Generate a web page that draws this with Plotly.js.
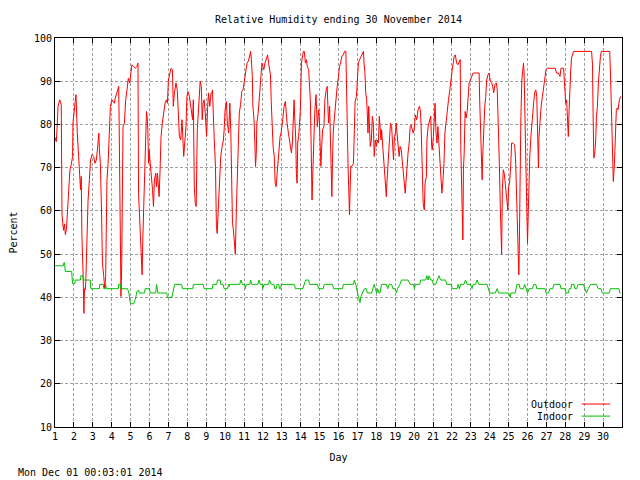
<!DOCTYPE html>
<html>
<head>
<meta charset="utf-8">
<script src="https://cdn.plot.ly/plotly-3.0.1.min.js"></script>
<style>html,body{margin:0;padding:0;background:#fff;}#chart{width:640px;height:480px;}</style>
</head>
<body>
<div id="chart"></div>
<script>
// Relative humidity, November 2014 — [day of month, percent]
var outdoorPoints = [
[1.00,77.0],[1.07,76.0],[1.12,80.0],[1.16,84.2],[1.25,85.7],[1.33,84.6],[1.37,59.1],[1.40,57.1],[1.45,55.5],[1.50,57.0],
[1.55,54.5],[1.61,56.0],[1.65,59.1],[1.72,64.9],[1.79,69.5],[1.86,70.7],[1.93,72.6],[1.95,80.3],[2.00,83.4],[2.07,85.3],
[2.11,86.9],[2.14,81.9],[2.18,78.0],[2.25,72.6],[2.32,67.2],[2.35,64.9],[2.39,68.0],[2.42,54.8],[2.49,45.0],[2.53,36.3],
[2.56,42.0],[2.60,41.7],[2.63,43.6],[2.70,58.7],[2.75,62.5],[2.82,67.2],[2.88,71.8],[2.96,73.0],[3.05,72.6],[3.11,71.0],
[3.19,71.8],[3.26,74.9],[3.30,76.4],[3.32,78.0],[3.35,74.1],[3.40,71.0],[3.46,60.2],[3.51,47.9],[3.58,44.8],[3.63,42.1],
[3.68,44.8],[3.72,57.1],[3.75,67.2],[3.81,71.0],[3.86,76.4],[3.93,84.2],[4.02,85.7],[4.14,84.9],[4.19,86.1],[4.32,88.4],
[4.37,88.8],[4.40,78.0],[4.46,59.5],[4.49,40.2],[4.53,47.9],[4.56,58.7],[4.60,79.5],[4.67,80.3],[4.74,85.7],[4.81,88.0],
[4.88,90.7],[4.95,89.6],[5.00,91.9],[5.07,93.8],[5.16,93.4],[5.25,93.0],[5.33,93.4],[5.39,94.2],[5.42,64.1],[5.49,55.6],
[5.56,47.9],[5.61,45.2],[5.65,54.1],[5.70,62.5],[5.74,71.0],[5.79,78.8],[5.84,83.0],[5.88,81.5],[5.91,78.8],[5.95,71.0],
[5.98,74.1],[6.04,71.0],[6.09,68.7],[6.16,64.9],[6.21,61.0],[6.26,67.2],[6.33,68.7],[6.37,65.6],[6.42,68.7],[6.51,63.3],
[6.56,69.5],[6.61,77.2],[6.68,80.3],[6.75,82.6],[6.82,84.9],[6.89,85.7],[6.95,84.9],[7.00,90.3],[7.05,91.1],[7.14,93.0],
[7.21,92.7],[7.26,84.2],[7.32,87.3],[7.40,89.6],[7.47,88.0],[7.58,77.2],[7.65,76.4],[7.72,81.1],[7.81,72.6],[7.86,74.9],
[7.93,79.5],[7.98,86.5],[8.04,87.6],[8.11,86.5],[8.23,83.4],[8.28,81.1],[8.32,85.7],[8.37,65.6],[8.42,61.8],[8.47,61.0],
[8.53,78.8],[8.58,83.4],[8.63,87.3],[8.68,90.0],[8.74,88.8],[8.79,81.1],[8.84,84.9],[8.89,85.7],[8.95,82.6],[9.02,77.2],
[9.07,83.4],[9.12,87.3],[9.19,84.2],[9.26,87.3],[9.32,87.6],[9.33,88.0],[9.42,77.2],[9.49,70.3],[9.54,56.4],[9.58,54.8],
[9.63,59.5],[9.70,67.2],[9.77,72.6],[9.84,74.9],[9.91,76.4],[9.95,78.8],[10.00,83.4],[10.07,85.3],[10.12,80.3],[10.19,78.0],
[10.25,84.9],[10.30,78.8],[10.33,71.0],[10.39,57.1],[10.44,55.6],[10.49,53.3],[10.54,50.0],[10.60,61.0],[10.65,68.7],[10.70,76.4],
[10.75,82.6],[10.82,84.6],[10.88,87.6],[10.95,88.0],[11.02,90.3],[11.09,93.0],[11.16,94.2],[11.23,94.6],[11.30,95.8],[11.35,96.9],
[11.39,95.0],[11.44,91.1],[11.47,84.2],[11.53,81.1],[11.58,74.9],[11.61,70.3],[11.65,73.4],[11.68,80.3],[11.75,82.6],[11.79,85.3],
[11.82,87.3],[11.88,90.3],[11.95,94.2],[12.00,93.4],[12.05,92.7],[12.11,94.2],[12.18,95.4],[12.25,96.1],[12.30,94.2],[12.35,92.3],
[12.40,91.5],[12.44,85.3],[12.49,79.5],[12.54,74.9],[12.60,72.6],[12.65,66.4],[12.70,65.6],[12.77,68.7],[12.84,73.4],[12.91,77.2],
[12.96,78.0],[13.05,81.1],[13.12,84.2],[13.19,85.3],[13.23,81.9],[13.28,80.3],[13.35,78.0],[13.40,76.4],[13.46,74.9],[13.51,73.4],
[13.56,75.7],[13.61,80.3],[13.65,85.7],[13.68,81.9],[13.74,76.4],[13.77,68.7],[13.81,66.4],[13.84,75.7],[13.89,77.2],[13.95,81.1],
[13.98,83.0],[14.04,94.2],[14.09,96.1],[14.14,96.9],[14.19,96.9],[14.25,94.2],[14.30,95.0],[14.35,93.4],[14.42,92.7],[14.46,90.3],
[14.51,85.7],[14.56,73.4],[14.60,62.5],[14.63,67.2],[14.68,76.4],[14.74,82.6],[14.81,86.9],[14.84,83.4],[14.88,79.5],[14.95,83.4],
[14.98,81.9],[15.02,76.4],[15.07,70.3],[15.11,74.9],[15.16,78.8],[15.23,79.5],[15.28,85.7],[15.35,88.0],[15.40,88.8],[15.44,84.2],
[15.47,80.3],[15.53,84.2],[15.56,78.0],[15.61,68.7],[15.65,63.3],[15.68,71.0],[15.72,78.0],[15.79,81.9],[15.86,86.1],[15.93,88.8],
[16.00,91.1],[16.05,93.4],[16.11,94.2],[16.18,95.8],[16.26,96.1],[16.32,96.9],[16.39,96.9],[16.42,87.3],[16.47,78.0],[16.51,69.5],
[16.54,65.6],[16.58,59.1],[16.61,64.1],[16.65,70.3],[16.70,70.3],[16.79,71.0],[16.84,78.8],[16.88,85.3],[16.95,86.5],[17.00,91.1],
[17.05,94.2],[17.12,95.0],[17.19,95.8],[17.26,96.5],[17.32,96.9],[17.35,94.2],[17.40,91.9],[17.44,87.3],[17.49,85.7],[17.53,81.9],
[17.56,78.0],[17.60,84.2],[17.63,78.8],[17.68,74.9],[17.74,76.4],[17.79,81.9],[17.84,80.3],[17.89,72.6],[17.95,76.4],[18.00,74.9],
[18.05,76.4],[18.11,75.7],[18.16,81.9],[18.21,78.8],[18.25,76.4],[18.28,78.8],[18.33,75.7],[18.39,72.6],[18.44,70.3],[18.49,68.0],
[18.53,63.3],[18.56,66.4],[18.63,72.6],[18.70,76.4],[18.75,80.3],[18.81,79.5],[18.86,76.4],[18.91,71.8],[18.96,77.2],[19.02,78.0],
[19.05,80.3],[19.11,76.4],[19.16,74.9],[19.21,72.6],[19.26,74.9],[19.32,74.1],[19.37,71.8],[19.42,71.0],[19.47,68.7],[19.53,64.1],
[19.58,67.2],[19.63,71.8],[19.68,73.4],[19.74,75.7],[19.79,79.5],[19.84,79.9],[19.89,78.8],[19.95,78.0],[20.00,78.8],[20.07,82.2],
[20.14,81.1],[20.21,83.4],[20.28,84.2],[20.33,83.4],[20.37,80.0],[20.42,69.5],[20.48,61.8],[20.54,60.2],[20.58,66.4],[20.65,68.0],
[20.68,76.4],[20.74,79.5],[20.81,81.1],[20.88,81.9],[20.93,74.9],[20.96,74.1],[21.02,77.2],[21.07,80.3],[21.11,84.9],[21.16,78.0],
[21.21,75.7],[21.26,79.5],[21.32,75.7],[21.37,70.3],[21.42,69.5],[21.47,64.1],[21.53,67.2],[21.58,71.0],[21.63,78.0],[21.68,80.3],
[21.75,82.6],[21.82,85.7],[21.89,88.0],[21.96,91.1],[22.02,92.7],[22.07,94.2],[22.12,95.8],[22.18,96.1],[22.25,94.2],[22.32,93.8],
[22.39,94.6],[22.44,95.0],[22.47,74.9],[22.53,58.7],[22.58,53.3],[22.61,69.5],[22.65,73.4],[22.70,83.0],[22.75,81.5],[22.81,83.0],
[22.86,88.0],[22.91,89.6],[22.98,90.3],[23.05,91.1],[23.12,91.9],[23.21,91.9],[23.33,91.9],[23.44,91.9],[23.47,85.7],[23.53,74.1],
[23.56,71.0],[23.60,67.2],[23.63,72.6],[23.68,80.3],[23.74,84.2],[23.79,86.5],[23.84,90.3],[23.91,91.5],[23.96,91.9],[24.04,89.9],
[24.11,89.6],[24.16,88.8],[24.21,87.3],[24.28,89.2],[24.35,89.6],[24.40,88.0],[24.46,81.1],[24.51,71.0],[24.56,61.0],[24.60,55.0],
[24.63,50.0],[24.67,64.9],[24.72,69.5],[24.77,68.7],[24.82,66.4],[24.88,64.1],[24.93,61.8],[24.96,60.2],[25.00,65.6],[25.05,66.4],
[25.11,70.3],[25.16,75.7],[25.23,75.7],[25.32,75.3],[25.37,71.8],[25.42,64.1],[25.46,57.1],[25.51,47.9],[25.54,45.2],[25.56,49.4],
[25.60,68.7],[25.65,81.5],[25.70,90.3],[25.75,93.4],[25.79,94.2],[25.82,91.9],[25.86,82.6],[25.91,69.5],[25.96,61.8],[26.00,52.5],
[26.04,59.5],[26.07,68.7],[26.12,72.6],[26.18,77.2],[26.23,80.3],[26.28,83.4],[26.33,85.3],[26.39,87.6],[26.44,88.0],[26.49,86.5],
[26.54,75.7],[26.58,69.9],[26.61,77.2],[26.67,82.6],[26.72,84.2],[26.79,86.5],[26.86,88.8],[26.93,90.3],[26.98,92.7],[27.05,93.0],
[27.28,93.0],[27.47,93.0],[27.53,91.9],[27.63,91.9],[27.72,91.1],[27.77,93.0],[27.91,93.0],[27.96,87.6],[28.02,84.9],[28.07,85.7],
[28.12,82.2],[28.16,77.2],[28.19,81.9],[28.23,88.8],[28.28,91.9],[28.33,95.4],[28.39,96.5],[28.44,96.9],[29.39,96.9],[29.44,93.8],
[29.47,82.6],[29.51,72.2],[29.56,73.4],[29.61,76.4],[29.65,81.9],[29.70,84.2],[29.75,89.6],[29.81,93.4],[29.86,95.8],[29.91,96.9],
[30.35,96.9],[30.40,90.3],[30.46,78.8],[30.51,68.7],[30.54,66.8],[30.60,71.0],[30.65,81.1],[30.70,83.4],[30.75,83.8],[30.79,83.4],
[30.86,85.7],[30.93,86.5]
];

var indoorPoints = [
[1.00,47.3],[1.44,47.3],[1.47,48],[1.51,48],[1.54,46],[1.88,46],[1.93,43.2],[2.05,43.2],[2.07,44],[2.35,44],
[2.37,45],[2.47,45],[2.50,44],[2.86,44],[2.90,42],[3.35,42],[3.37,43],[3.56,43],[3.58,42],[3.66,42],
[3.68,43],[3.72,42],[4.35,42],[4.37,43],[4.46,43],[4.49,42],[4.84,42],[4.91,41],[4.97,39],[5.02,38.5],
[5.16,38.5],[5.25,39.5],[5.33,41.3],[5.42,41.7],[5.46,41],[5.74,41],[5.77,42],[6.00,42],[6.04,41],[6.33,41],
[6.37,43],[6.40,42],[6.45,41],[6.91,41],[6.95,40],[7.18,40],[7.26,41.3],[7.33,43],[7.70,43],[7.75,42],
[8.28,42],[8.33,43],[8.84,43],[8.89,42],[9.32,42],[9.35,43],[9.56,43],[9.60,44],[9.74,44],[9.77,43],
[9.89,43],[9.95,42],[10.12,42],[10.19,43],[10.22,42.5],[10.25,43],[10.77,43],[10.84,44],[10.91,43],[11.04,43],
[11.07,42],[11.12,43],[11.30,43],[11.35,44],[11.40,43],[11.74,43],[11.79,44],[11.86,43],[11.95,43],[12.00,42],
[12.05,43],[12.30,43],[12.35,44],[12.44,43],[12.58,43],[12.63,42],[12.70,42],[12.75,43],[12.84,43],[12.88,42],
[12.93,42],[12.98,43],[13.67,43],[13.72,42],[14.11,42],[14.19,43],[14.26,44],[14.42,44],[14.47,43],[14.89,43],
[14.95,42],[15.19,42],[15.25,43],[15.68,43],[15.74,42],[16.21,42],[16.26,43],[16.79,43],[16.84,44],[16.91,43],
[16.96,41.7],[17.05,40.2],[17.14,38.8],[17.19,40.2],[17.26,41],[17.37,42],[17.47,42],[17.53,41],[17.75,41],[17.84,42],
[17.89,43],[17.95,42],[18.02,41],[18.07,42],[18.14,41],[18.19,41],[18.28,43],[18.54,43],[18.60,42],[18.68,43],
[18.81,43],[18.88,42],[18.98,42],[19.07,41],[19.12,42],[19.25,43],[19.33,44],[19.68,44],[19.79,43],[19.96,43],
[20.02,42],[20.07,43],[20.30,43],[20.35,44],[20.61,44],[20.67,45],[20.74,44],[20.79,45],[20.88,44],[20.96,44],
[21.02,43],[21.14,43],[21.23,44],[21.32,45],[21.40,44],[21.67,44],[21.72,43],[21.96,43],[22.02,42],[22.28,42],
[22.33,43],[22.40,42],[22.46,43],[22.63,43],[22.72,44],[22.81,43],[22.98,43],[23.07,42],[23.12,43],[23.25,43],
[23.33,44],[23.42,43],[23.86,43],[23.95,42],[24.00,41],[24.30,41],[24.39,42],[24.47,41],[25.00,41],[25.09,40],
[25.12,41],[25.35,41],[25.44,43],[25.56,43],[25.61,42],[25.79,42],[25.84,43],[25.93,42],[26.00,41],[26.09,42],
[26.26,42],[26.33,43],[26.44,43],[26.49,42],[26.93,42],[26.98,41],[27.11,41],[27.18,42],[27.33,42],[27.40,43],
[27.72,43],[27.77,42],[27.98,42],[28.04,41],[28.16,41],[28.21,42],[28.30,42],[28.33,43],[28.46,43],[28.51,42],
[28.60,42],[28.68,43],[28.96,43],[29.04,42],[29.12,41],[29.21,42],[29.35,43],[29.65,43],[29.74,42],[29.88,42],
[29.96,41],[30.32,41],[30.39,42],[30.84,42],[30.88,41],[30.93,41]
];

var dayTicks = [1,2,3,4,5,6,7,8,9,10,11,12,13,14,15,16,17,18,19,20,21,22,23,24,25,26,27,28,29,30];
var percentTicks = [10,20,30,40,50,60,70,80,90,100];
var seriesNames = ['Outdoor', 'Indoor'];
var seriesColors = ['#ff0000', '#00c000'];
var chartTitle = 'Relative Humidity ending 30 November 2014';
var stampText = 'Mon Dec 01 00:03:01 2014';

var FONT = 'DejaVu Sans Mono, monospace';

var traces = [outdoorPoints, indoorPoints].map(function (pts, i) {
  return {
    type: 'scatter', mode: 'lines', name: seriesNames[i], showlegend: false,
    x: pts.map(function (p) { return p[0]; }),
    y: pts.map(function (p) { return p[1]; }),
    line: {color: seriesColors[i], width: 1}
  };
});

var axisCommon = {
  showline: true, linecolor: '#000', linewidth: 1, mirror: 'ticks',
  ticks: 'inside', ticklen: 5, tickcolor: '#000', tickwidth: 1,
  showgrid: true, gridcolor: '#a0a0a0', gridwidth: 1, griddash: '3px,2px',
  zeroline: false, tickfont: {family: FONT, size: 10, color: '#000'}
};

var layout = {
  width: 640, height: 480,
  margin: {l: 55, r: 18, t: 38, b: 53},
  paper_bgcolor: '#fff', plot_bgcolor: '#fff',
  font: {family: FONT, size: 10, color: '#000'},
  title: {text: chartTitle, x: 0.5, xref: 'paper', xanchor: 'center', y: 1 - 19 / 480, yref: 'container', yanchor: 'middle', font: {family: FONT, size: 10, color: '#000'}},
  xaxis: Object.assign({}, axisCommon, {
    range: [1, 31], tickmode: 'array', tickvals: dayTicks, ticktext: dayTicks.map(String),
    title: {text: 'Day', font: {family: FONT, size: 10}, standoff: 12}, automargin: false
  }),
  yaxis: Object.assign({}, axisCommon, {
    range: [10, 100], tickmode: 'array', tickvals: percentTicks, ticktext: percentTicks.map(String),
    title: {text: 'Percent', font: {family: FONT, size: 10}, standoff: 14}, automargin: false
  }),
  showlegend: false,
  annotations: [
    {text: seriesNames[0], xref: 'paper', yref: 'paper', x: 0.917, y: 0.059, xanchor: 'right', yanchor: 'middle', showarrow: false, font: {family: FONT, size: 10}},
    {text: seriesNames[1], xref: 'paper', yref: 'paper', x: 0.917, y: 0.028, xanchor: 'right', yanchor: 'middle', showarrow: false, font: {family: FONT, size: 10}},
    {text: stampText, xref: 'paper', yref: 'paper', x: -0.068, y: -0.116, xanchor: 'left', yanchor: 'middle', showarrow: false, font: {family: FONT, size: 10}}
  ],
  shapes: [
    {type: 'line', xref: 'paper', yref: 'paper', x0: 0.929, x1: 0.979, y0: 0.059, y1: 0.059, line: {color: seriesColors[0], width: 1}},
    {type: 'line', xref: 'paper', yref: 'paper', x0: 0.929, x1: 0.979, y0: 0.028, y1: 0.028, line: {color: seriesColors[1], width: 1}}
  ]
};

Plotly.newPlot('chart', traces, layout, {staticPlot: true, displayModeBar: false});
</script>
</body>
</html>
